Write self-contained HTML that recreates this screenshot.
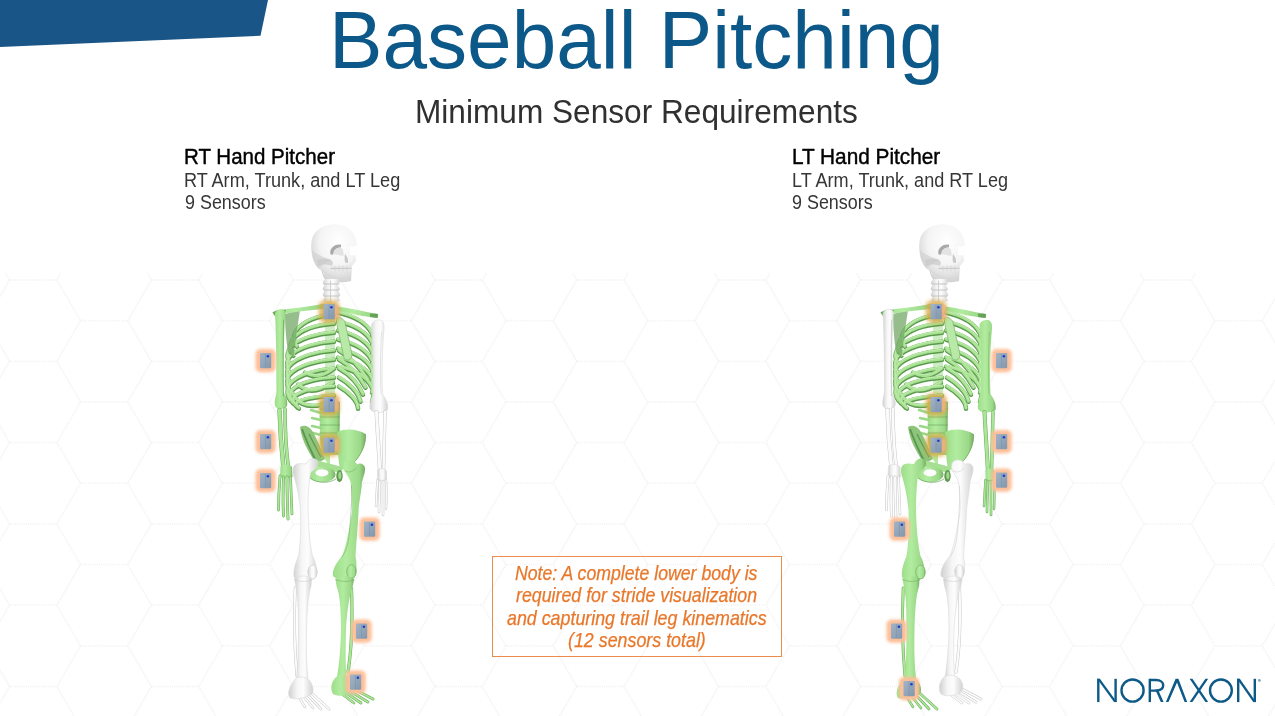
<!DOCTYPE html>
<html><head><meta charset="utf-8">
<style>
html,body{margin:0;padding:0;background:#fff;}
body{width:1275px;height:716px;position:relative;overflow:hidden;font-family:"Liberation Sans",sans-serif;}
svg{position:absolute;left:0;top:0;}
.abs{position:absolute;white-space:nowrap;transform-origin:0 0;}
.it{font-style:italic;}
#note{position:absolute;left:491.8px;top:555.8px;width:288.5px;height:99.5px;border:1.3px solid #ec8c4a;}
</style></head><body>
<svg width="1275" height="716" viewBox="0 0 1275 716">
<defs>
<linearGradient id="gg" x1="0" y1="0" x2="1" y2="0"><stop offset="0" stop-color="#9ddd89"/><stop offset="0.4" stop-color="#b2eca0"/><stop offset="0.82" stop-color="#9bd888"/><stop offset="1" stop-color="#74b164"/></linearGradient>
<linearGradient id="wg" x1="0" y1="0" x2="1" y2="0"><stop offset="0" stop-color="#d0d0d0"/><stop offset="0.35" stop-color="#f6f6f6"/><stop offset="0.6" stop-color="#fdfdfd"/><stop offset="1" stop-color="#d2d2d2"/></linearGradient>
<radialGradient id="sk" cx="0.6" cy="0.3" r="0.75"><stop offset="0" stop-color="#ffffff"/><stop offset="0.55" stop-color="#f4f4f4"/><stop offset="1" stop-color="#cdcdcd"/></radialGradient>
<linearGradient id="sg" x1="0" y1="0" x2="1" y2="1"><stop offset="0" stop-color="#a3b4c6"/><stop offset="1" stop-color="#8297ad"/></linearGradient>
<filter id="blur2" x="-50%" y="-50%" width="200%" height="200%"><feGaussianBlur stdDeviation="2"/></filter>
<filter id="blur15" x="-50%" y="-50%" width="200%" height="200%"><feGaussianBlur stdDeviation="1.5"/></filter>
<filter id="blur05" x="-50%" y="-50%" width="200%" height="200%"><feGaussianBlur stdDeviation="0.6"/></filter>
<filter id="blur1" x="-50%" y="-50%" width="200%" height="200%"><feGaussianBlur stdDeviation="1"/></filter>
<clipPath id="hexclip"><rect x="0" y="273" width="1275" height="443"/></clipPath>
</defs>
<path d="M9.6,198.7 L-14.0,239.4 L-61.3,239.4 L-84.9,198.7 L-61.3,158.1 L-14.0,158.1Z M9.6,280.0 L-14.0,320.6 L-61.3,320.6 L-84.9,280.0 L-61.3,239.3 L-14.0,239.3Z M9.6,361.3 L-14.0,401.9 L-61.3,401.9 L-84.9,361.3 L-61.3,320.7 L-14.0,320.7Z M9.6,442.6 L-14.0,483.2 L-61.3,483.2 L-84.9,442.6 L-61.3,402.0 L-14.0,402.0Z M9.6,523.9 L-14.0,564.5 L-61.3,564.5 L-84.9,523.9 L-61.3,483.2 L-14.0,483.2Z M9.6,605.2 L-14.0,645.9 L-61.3,645.9 L-84.9,605.2 L-61.3,564.6 L-14.0,564.6Z M9.6,686.5 L-14.0,727.1 L-61.3,727.1 L-84.9,686.5 L-61.3,645.9 L-14.0,645.9Z M9.6,767.8 L-14.0,808.4 L-61.3,808.4 L-84.9,767.8 L-61.3,727.1 L-14.0,727.1Z M9.6,849.1 L-14.0,889.7 L-61.3,889.7 L-84.9,849.1 L-61.3,808.4 L-14.0,808.4Z M80.5,158.0 L56.9,198.7 L9.6,198.7 L-14.0,158.0 L9.6,117.4 L56.9,117.4Z M80.5,239.3 L56.9,280.0 L9.6,280.0 L-14.0,239.3 L9.6,198.7 L56.9,198.7Z M80.5,320.6 L56.9,361.3 L9.6,361.3 L-14.0,320.6 L9.6,280.0 L56.9,280.0Z M80.5,401.9 L56.9,442.6 L9.6,442.6 L-14.0,401.9 L9.6,361.3 L56.9,361.3Z M80.5,483.2 L56.9,523.9 L9.6,523.9 L-14.0,483.2 L9.6,442.6 L56.9,442.6Z M80.5,564.5 L56.9,605.2 L9.6,605.2 L-14.0,564.5 L9.6,523.9 L56.9,523.9Z M80.5,645.8 L56.9,686.5 L9.6,686.5 L-14.0,645.8 L9.6,605.2 L56.9,605.2Z M80.5,727.1 L56.9,767.8 L9.6,767.8 L-14.0,727.1 L9.6,686.5 L56.9,686.5Z M80.5,808.4 L56.9,849.1 L9.6,849.1 L-14.0,808.4 L9.6,767.8 L56.9,767.8Z M151.4,198.7 L127.8,239.4 L80.5,239.4 L56.9,198.7 L80.5,158.1 L127.8,158.1Z M151.4,280.0 L127.8,320.6 L80.5,320.6 L56.9,280.0 L80.5,239.3 L127.8,239.3Z M151.4,361.3 L127.8,401.9 L80.5,401.9 L56.9,361.3 L80.5,320.7 L127.8,320.7Z M151.4,442.6 L127.8,483.2 L80.5,483.2 L56.9,442.6 L80.5,402.0 L127.8,402.0Z M151.4,523.9 L127.8,564.5 L80.5,564.5 L56.9,523.9 L80.5,483.2 L127.8,483.2Z M151.4,605.2 L127.8,645.9 L80.5,645.9 L56.9,605.2 L80.5,564.6 L127.8,564.6Z M151.4,686.5 L127.8,727.1 L80.5,727.1 L56.9,686.5 L80.5,645.9 L127.8,645.9Z M151.4,767.8 L127.8,808.4 L80.5,808.4 L56.9,767.8 L80.5,727.1 L127.8,727.1Z M151.4,849.1 L127.8,889.7 L80.5,889.7 L56.9,849.1 L80.5,808.4 L127.8,808.4Z M222.3,158.0 L198.7,198.7 L151.4,198.7 L127.8,158.0 L151.4,117.4 L198.7,117.4Z M222.3,239.3 L198.7,280.0 L151.4,280.0 L127.8,239.3 L151.4,198.7 L198.7,198.7Z M222.3,320.6 L198.7,361.3 L151.4,361.3 L127.8,320.6 L151.4,280.0 L198.7,280.0Z M222.3,401.9 L198.7,442.6 L151.4,442.6 L127.8,401.9 L151.4,361.3 L198.7,361.3Z M222.3,483.2 L198.7,523.9 L151.4,523.9 L127.8,483.2 L151.4,442.6 L198.7,442.6Z M222.3,564.5 L198.7,605.2 L151.4,605.2 L127.8,564.5 L151.4,523.9 L198.7,523.9Z M222.3,645.8 L198.7,686.5 L151.4,686.5 L127.8,645.8 L151.4,605.2 L198.7,605.2Z M222.3,727.1 L198.7,767.8 L151.4,767.8 L127.8,727.1 L151.4,686.5 L198.7,686.5Z M222.3,808.4 L198.7,849.1 L151.4,849.1 L127.8,808.4 L151.4,767.8 L198.7,767.8Z M293.2,198.7 L269.6,239.4 L222.3,239.4 L198.7,198.7 L222.3,158.1 L269.6,158.1Z M293.2,280.0 L269.6,320.6 L222.3,320.6 L198.7,280.0 L222.3,239.3 L269.6,239.3Z M293.2,361.3 L269.6,401.9 L222.3,401.9 L198.7,361.3 L222.3,320.7 L269.6,320.7Z M293.2,442.6 L269.6,483.2 L222.3,483.2 L198.7,442.6 L222.3,402.0 L269.6,402.0Z M293.2,523.9 L269.6,564.5 L222.3,564.5 L198.7,523.9 L222.3,483.2 L269.6,483.2Z M293.2,605.2 L269.6,645.9 L222.3,645.9 L198.7,605.2 L222.3,564.6 L269.6,564.6Z M293.2,686.5 L269.6,727.1 L222.3,727.1 L198.7,686.5 L222.3,645.9 L269.6,645.9Z M293.2,767.8 L269.6,808.4 L222.3,808.4 L198.7,767.8 L222.3,727.1 L269.6,727.1Z M293.2,849.1 L269.6,889.7 L222.3,889.7 L198.7,849.1 L222.3,808.4 L269.6,808.4Z M364.1,158.0 L340.5,198.7 L293.2,198.7 L269.6,158.0 L293.2,117.4 L340.5,117.4Z M364.1,239.3 L340.5,280.0 L293.2,280.0 L269.6,239.3 L293.2,198.7 L340.5,198.7Z M364.1,320.6 L340.5,361.3 L293.2,361.3 L269.6,320.6 L293.2,280.0 L340.5,280.0Z M364.1,401.9 L340.5,442.6 L293.2,442.6 L269.6,401.9 L293.2,361.3 L340.5,361.3Z M364.1,483.2 L340.5,523.9 L293.2,523.9 L269.6,483.2 L293.2,442.6 L340.5,442.6Z M364.1,564.5 L340.5,605.2 L293.2,605.2 L269.6,564.5 L293.2,523.9 L340.5,523.9Z M364.1,645.8 L340.5,686.5 L293.2,686.5 L269.6,645.8 L293.2,605.2 L340.5,605.2Z M364.1,727.1 L340.5,767.8 L293.2,767.8 L269.6,727.1 L293.2,686.5 L340.5,686.5Z M364.1,808.4 L340.5,849.1 L293.2,849.1 L269.6,808.4 L293.2,767.8 L340.5,767.8Z M435.0,198.7 L411.4,239.4 L364.1,239.4 L340.5,198.7 L364.1,158.1 L411.4,158.1Z M435.0,280.0 L411.4,320.6 L364.1,320.6 L340.5,280.0 L364.1,239.3 L411.4,239.3Z M435.0,361.3 L411.4,401.9 L364.1,401.9 L340.5,361.3 L364.1,320.7 L411.4,320.7Z M435.0,442.6 L411.4,483.2 L364.1,483.2 L340.5,442.6 L364.1,402.0 L411.4,402.0Z M435.0,523.9 L411.4,564.5 L364.1,564.5 L340.5,523.9 L364.1,483.2 L411.4,483.2Z M435.0,605.2 L411.4,645.9 L364.1,645.9 L340.5,605.2 L364.1,564.6 L411.4,564.6Z M435.0,686.5 L411.4,727.1 L364.1,727.1 L340.5,686.5 L364.1,645.9 L411.4,645.9Z M435.0,767.8 L411.4,808.4 L364.1,808.4 L340.5,767.8 L364.1,727.1 L411.4,727.1Z M435.0,849.1 L411.4,889.7 L364.1,889.7 L340.5,849.1 L364.1,808.4 L411.4,808.4Z M505.9,158.0 L482.3,198.7 L435.0,198.7 L411.4,158.0 L435.0,117.4 L482.3,117.4Z M505.9,239.3 L482.3,280.0 L435.0,280.0 L411.4,239.3 L435.0,198.7 L482.3,198.7Z M505.9,320.6 L482.3,361.3 L435.0,361.3 L411.4,320.6 L435.0,280.0 L482.3,280.0Z M505.9,401.9 L482.3,442.6 L435.0,442.6 L411.4,401.9 L435.0,361.3 L482.3,361.3Z M505.9,483.2 L482.3,523.9 L435.0,523.9 L411.4,483.2 L435.0,442.6 L482.3,442.6Z M505.9,564.5 L482.3,605.2 L435.0,605.2 L411.4,564.5 L435.0,523.9 L482.3,523.9Z M505.9,645.8 L482.3,686.5 L435.0,686.5 L411.4,645.8 L435.0,605.2 L482.3,605.2Z M505.9,727.1 L482.3,767.8 L435.0,767.8 L411.4,727.1 L435.0,686.5 L482.3,686.5Z M505.9,808.4 L482.3,849.1 L435.0,849.1 L411.4,808.4 L435.0,767.8 L482.3,767.8Z M576.8,198.7 L553.2,239.4 L505.9,239.4 L482.3,198.7 L505.9,158.1 L553.2,158.1Z M576.8,280.0 L553.2,320.6 L505.9,320.6 L482.3,280.0 L505.9,239.3 L553.2,239.3Z M576.8,361.3 L553.2,401.9 L505.9,401.9 L482.3,361.3 L505.9,320.7 L553.2,320.7Z M576.8,442.6 L553.2,483.2 L505.9,483.2 L482.3,442.6 L505.9,402.0 L553.2,402.0Z M576.8,523.9 L553.2,564.5 L505.9,564.5 L482.3,523.9 L505.9,483.2 L553.2,483.2Z M576.8,605.2 L553.2,645.9 L505.9,645.9 L482.3,605.2 L505.9,564.6 L553.2,564.6Z M576.8,686.5 L553.2,727.1 L505.9,727.1 L482.3,686.5 L505.9,645.9 L553.2,645.9Z M576.8,767.8 L553.2,808.4 L505.9,808.4 L482.3,767.8 L505.9,727.1 L553.2,727.1Z M576.8,849.1 L553.2,889.7 L505.9,889.7 L482.3,849.1 L505.9,808.4 L553.2,808.4Z M647.7,158.0 L624.1,198.7 L576.8,198.7 L553.2,158.0 L576.8,117.4 L624.1,117.4Z M647.7,239.3 L624.1,280.0 L576.8,280.0 L553.2,239.3 L576.8,198.7 L624.1,198.7Z M647.7,320.6 L624.1,361.3 L576.8,361.3 L553.2,320.6 L576.8,280.0 L624.1,280.0Z M647.7,401.9 L624.1,442.6 L576.8,442.6 L553.2,401.9 L576.8,361.3 L624.1,361.3Z M647.7,483.2 L624.1,523.9 L576.8,523.9 L553.2,483.2 L576.8,442.6 L624.1,442.6Z M647.7,564.5 L624.1,605.2 L576.8,605.2 L553.2,564.5 L576.8,523.9 L624.1,523.9Z M647.7,645.8 L624.1,686.5 L576.8,686.5 L553.2,645.8 L576.8,605.2 L624.1,605.2Z M647.7,727.1 L624.1,767.8 L576.8,767.8 L553.2,727.1 L576.8,686.5 L624.1,686.5Z M647.7,808.4 L624.1,849.1 L576.8,849.1 L553.2,808.4 L576.8,767.8 L624.1,767.8Z M718.6,198.7 L695.0,239.4 L647.7,239.4 L624.1,198.7 L647.7,158.1 L695.0,158.1Z M718.6,280.0 L695.0,320.6 L647.7,320.6 L624.1,280.0 L647.7,239.3 L695.0,239.3Z M718.6,361.3 L695.0,401.9 L647.7,401.9 L624.1,361.3 L647.7,320.7 L695.0,320.7Z M718.6,442.6 L695.0,483.2 L647.7,483.2 L624.1,442.6 L647.7,402.0 L695.0,402.0Z M718.6,523.9 L695.0,564.5 L647.7,564.5 L624.1,523.9 L647.7,483.2 L695.0,483.2Z M718.6,605.2 L695.0,645.9 L647.7,645.9 L624.1,605.2 L647.7,564.6 L695.0,564.6Z M718.6,686.5 L695.0,727.1 L647.7,727.1 L624.1,686.5 L647.7,645.9 L695.0,645.9Z M718.6,767.8 L695.0,808.4 L647.7,808.4 L624.1,767.8 L647.7,727.1 L695.0,727.1Z M718.6,849.1 L695.0,889.7 L647.7,889.7 L624.1,849.1 L647.7,808.4 L695.0,808.4Z M789.5,158.0 L765.9,198.7 L718.6,198.7 L695.0,158.0 L718.6,117.4 L765.9,117.4Z M789.5,239.3 L765.9,280.0 L718.6,280.0 L695.0,239.3 L718.6,198.7 L765.9,198.7Z M789.5,320.6 L765.9,361.3 L718.6,361.3 L695.0,320.6 L718.6,280.0 L765.9,280.0Z M789.5,401.9 L765.9,442.6 L718.6,442.6 L695.0,401.9 L718.6,361.3 L765.9,361.3Z M789.5,483.2 L765.9,523.9 L718.6,523.9 L695.0,483.2 L718.6,442.6 L765.9,442.6Z M789.5,564.5 L765.9,605.2 L718.6,605.2 L695.0,564.5 L718.6,523.9 L765.9,523.9Z M789.5,645.8 L765.9,686.5 L718.6,686.5 L695.0,645.8 L718.6,605.2 L765.9,605.2Z M789.5,727.1 L765.9,767.8 L718.6,767.8 L695.0,727.1 L718.6,686.5 L765.9,686.5Z M789.5,808.4 L765.9,849.1 L718.6,849.1 L695.0,808.4 L718.6,767.8 L765.9,767.8Z M860.4,198.7 L836.8,239.4 L789.5,239.4 L765.9,198.7 L789.5,158.1 L836.8,158.1Z M860.4,280.0 L836.8,320.6 L789.5,320.6 L765.9,280.0 L789.5,239.3 L836.8,239.3Z M860.4,361.3 L836.8,401.9 L789.5,401.9 L765.9,361.3 L789.5,320.7 L836.8,320.7Z M860.4,442.6 L836.8,483.2 L789.5,483.2 L765.9,442.6 L789.5,402.0 L836.8,402.0Z M860.4,523.9 L836.8,564.5 L789.5,564.5 L765.9,523.9 L789.5,483.2 L836.8,483.2Z M860.4,605.2 L836.8,645.9 L789.5,645.9 L765.9,605.2 L789.5,564.6 L836.8,564.6Z M860.4,686.5 L836.8,727.1 L789.5,727.1 L765.9,686.5 L789.5,645.9 L836.8,645.9Z M860.4,767.8 L836.8,808.4 L789.5,808.4 L765.9,767.8 L789.5,727.1 L836.8,727.1Z M860.4,849.1 L836.8,889.7 L789.5,889.7 L765.9,849.1 L789.5,808.4 L836.8,808.4Z M931.3,158.0 L907.7,198.7 L860.4,198.7 L836.8,158.0 L860.4,117.4 L907.7,117.4Z M931.3,239.3 L907.7,280.0 L860.4,280.0 L836.8,239.3 L860.4,198.7 L907.7,198.7Z M931.3,320.6 L907.7,361.3 L860.4,361.3 L836.8,320.6 L860.4,280.0 L907.7,280.0Z M931.3,401.9 L907.7,442.6 L860.4,442.6 L836.8,401.9 L860.4,361.3 L907.7,361.3Z M931.3,483.2 L907.7,523.9 L860.4,523.9 L836.8,483.2 L860.4,442.6 L907.7,442.6Z M931.3,564.5 L907.7,605.2 L860.4,605.2 L836.8,564.5 L860.4,523.9 L907.7,523.9Z M931.3,645.8 L907.7,686.5 L860.4,686.5 L836.8,645.8 L860.4,605.2 L907.7,605.2Z M931.3,727.1 L907.7,767.8 L860.4,767.8 L836.8,727.1 L860.4,686.5 L907.7,686.5Z M931.3,808.4 L907.7,849.1 L860.4,849.1 L836.8,808.4 L860.4,767.8 L907.7,767.8Z M1002.2,198.7 L978.6,239.4 L931.3,239.4 L907.7,198.7 L931.3,158.1 L978.6,158.1Z M1002.2,280.0 L978.6,320.6 L931.3,320.6 L907.7,280.0 L931.3,239.3 L978.6,239.3Z M1002.2,361.3 L978.6,401.9 L931.3,401.9 L907.7,361.3 L931.3,320.7 L978.6,320.7Z M1002.2,442.6 L978.6,483.2 L931.3,483.2 L907.7,442.6 L931.3,402.0 L978.6,402.0Z M1002.2,523.9 L978.6,564.5 L931.3,564.5 L907.7,523.9 L931.3,483.2 L978.6,483.2Z M1002.2,605.2 L978.6,645.9 L931.3,645.9 L907.7,605.2 L931.3,564.6 L978.6,564.6Z M1002.2,686.5 L978.6,727.1 L931.3,727.1 L907.7,686.5 L931.3,645.9 L978.6,645.9Z M1002.2,767.8 L978.6,808.4 L931.3,808.4 L907.7,767.8 L931.3,727.1 L978.6,727.1Z M1002.2,849.1 L978.6,889.7 L931.3,889.7 L907.7,849.1 L931.3,808.4 L978.6,808.4Z M1073.1,158.0 L1049.5,198.7 L1002.2,198.7 L978.6,158.0 L1002.2,117.4 L1049.5,117.4Z M1073.1,239.3 L1049.5,280.0 L1002.2,280.0 L978.6,239.3 L1002.2,198.7 L1049.5,198.7Z M1073.1,320.6 L1049.5,361.3 L1002.2,361.3 L978.6,320.6 L1002.2,280.0 L1049.5,280.0Z M1073.1,401.9 L1049.5,442.6 L1002.2,442.6 L978.6,401.9 L1002.2,361.3 L1049.5,361.3Z M1073.1,483.2 L1049.5,523.9 L1002.2,523.9 L978.6,483.2 L1002.2,442.6 L1049.5,442.6Z M1073.1,564.5 L1049.5,605.2 L1002.2,605.2 L978.6,564.5 L1002.2,523.9 L1049.5,523.9Z M1073.1,645.8 L1049.5,686.5 L1002.2,686.5 L978.6,645.8 L1002.2,605.2 L1049.5,605.2Z M1073.1,727.1 L1049.5,767.8 L1002.2,767.8 L978.6,727.1 L1002.2,686.5 L1049.5,686.5Z M1073.1,808.4 L1049.5,849.1 L1002.2,849.1 L978.6,808.4 L1002.2,767.8 L1049.5,767.8Z M1144.0,198.7 L1120.4,239.4 L1073.1,239.4 L1049.5,198.7 L1073.1,158.1 L1120.4,158.1Z M1144.0,280.0 L1120.4,320.6 L1073.1,320.6 L1049.5,280.0 L1073.1,239.3 L1120.4,239.3Z M1144.0,361.3 L1120.4,401.9 L1073.1,401.9 L1049.5,361.3 L1073.1,320.7 L1120.4,320.7Z M1144.0,442.6 L1120.4,483.2 L1073.1,483.2 L1049.5,442.6 L1073.1,402.0 L1120.4,402.0Z M1144.0,523.9 L1120.4,564.5 L1073.1,564.5 L1049.5,523.9 L1073.1,483.2 L1120.4,483.2Z M1144.0,605.2 L1120.4,645.9 L1073.1,645.9 L1049.5,605.2 L1073.1,564.6 L1120.4,564.6Z M1144.0,686.5 L1120.4,727.1 L1073.1,727.1 L1049.5,686.5 L1073.1,645.9 L1120.4,645.9Z M1144.0,767.8 L1120.4,808.4 L1073.1,808.4 L1049.5,767.8 L1073.1,727.1 L1120.4,727.1Z M1144.0,849.1 L1120.4,889.7 L1073.1,889.7 L1049.5,849.1 L1073.1,808.4 L1120.4,808.4Z M1214.9,158.0 L1191.3,198.7 L1144.0,198.7 L1120.4,158.0 L1144.0,117.4 L1191.3,117.4Z M1214.9,239.3 L1191.3,280.0 L1144.0,280.0 L1120.4,239.3 L1144.0,198.7 L1191.3,198.7Z M1214.9,320.6 L1191.3,361.3 L1144.0,361.3 L1120.4,320.6 L1144.0,280.0 L1191.3,280.0Z M1214.9,401.9 L1191.3,442.6 L1144.0,442.6 L1120.4,401.9 L1144.0,361.3 L1191.3,361.3Z M1214.9,483.2 L1191.3,523.9 L1144.0,523.9 L1120.4,483.2 L1144.0,442.6 L1191.3,442.6Z M1214.9,564.5 L1191.3,605.2 L1144.0,605.2 L1120.4,564.5 L1144.0,523.9 L1191.3,523.9Z M1214.9,645.8 L1191.3,686.5 L1144.0,686.5 L1120.4,645.8 L1144.0,605.2 L1191.3,605.2Z M1214.9,727.1 L1191.3,767.8 L1144.0,767.8 L1120.4,727.1 L1144.0,686.5 L1191.3,686.5Z M1214.9,808.4 L1191.3,849.1 L1144.0,849.1 L1120.4,808.4 L1144.0,767.8 L1191.3,767.8Z M1285.8,198.7 L1262.2,239.4 L1214.9,239.4 L1191.3,198.7 L1214.9,158.1 L1262.2,158.1Z M1285.8,280.0 L1262.2,320.6 L1214.9,320.6 L1191.3,280.0 L1214.9,239.3 L1262.2,239.3Z M1285.8,361.3 L1262.2,401.9 L1214.9,401.9 L1191.3,361.3 L1214.9,320.7 L1262.2,320.7Z M1285.8,442.6 L1262.2,483.2 L1214.9,483.2 L1191.3,442.6 L1214.9,402.0 L1262.2,402.0Z M1285.8,523.9 L1262.2,564.5 L1214.9,564.5 L1191.3,523.9 L1214.9,483.2 L1262.2,483.2Z M1285.8,605.2 L1262.2,645.9 L1214.9,645.9 L1191.3,605.2 L1214.9,564.6 L1262.2,564.6Z M1285.8,686.5 L1262.2,727.1 L1214.9,727.1 L1191.3,686.5 L1214.9,645.9 L1262.2,645.9Z M1285.8,767.8 L1262.2,808.4 L1214.9,808.4 L1191.3,767.8 L1214.9,727.1 L1262.2,727.1Z M1285.8,849.1 L1262.2,889.7 L1214.9,889.7 L1191.3,849.1 L1214.9,808.4 L1262.2,808.4Z M1356.7,158.0 L1333.1,198.7 L1285.8,198.7 L1262.2,158.0 L1285.8,117.4 L1333.1,117.4Z M1356.7,239.3 L1333.1,280.0 L1285.8,280.0 L1262.2,239.3 L1285.8,198.7 L1333.1,198.7Z M1356.7,320.6 L1333.1,361.3 L1285.8,361.3 L1262.2,320.6 L1285.8,280.0 L1333.1,280.0Z M1356.7,401.9 L1333.1,442.6 L1285.8,442.6 L1262.2,401.9 L1285.8,361.3 L1333.1,361.3Z M1356.7,483.2 L1333.1,523.9 L1285.8,523.9 L1262.2,483.2 L1285.8,442.6 L1333.1,442.6Z M1356.7,564.5 L1333.1,605.2 L1285.8,605.2 L1262.2,564.5 L1285.8,523.9 L1333.1,523.9Z M1356.7,645.8 L1333.1,686.5 L1285.8,686.5 L1262.2,645.8 L1285.8,605.2 L1333.1,605.2Z M1356.7,727.1 L1333.1,767.8 L1285.8,767.8 L1262.2,727.1 L1285.8,686.5 L1333.1,686.5Z M1356.7,808.4 L1333.1,849.1 L1285.8,849.1 L1262.2,808.4 L1285.8,767.8 L1333.1,767.8Z M1427.6,198.7 L1404.0,239.4 L1356.7,239.4 L1333.1,198.7 L1356.7,158.1 L1404.0,158.1Z M1427.6,280.0 L1404.0,320.6 L1356.7,320.6 L1333.1,280.0 L1356.7,239.3 L1404.0,239.3Z M1427.6,361.3 L1404.0,401.9 L1356.7,401.9 L1333.1,361.3 L1356.7,320.7 L1404.0,320.7Z M1427.6,442.6 L1404.0,483.2 L1356.7,483.2 L1333.1,442.6 L1356.7,402.0 L1404.0,402.0Z M1427.6,523.9 L1404.0,564.5 L1356.7,564.5 L1333.1,523.9 L1356.7,483.2 L1404.0,483.2Z M1427.6,605.2 L1404.0,645.9 L1356.7,645.9 L1333.1,605.2 L1356.7,564.6 L1404.0,564.6Z M1427.6,686.5 L1404.0,727.1 L1356.7,727.1 L1333.1,686.5 L1356.7,645.9 L1404.0,645.9Z M1427.6,767.8 L1404.0,808.4 L1356.7,808.4 L1333.1,767.8 L1356.7,727.1 L1404.0,727.1Z M1427.6,849.1 L1404.0,889.7 L1356.7,889.7 L1333.1,849.1 L1356.7,808.4 L1404.0,808.4Z" fill="none" stroke="#f4f4f4" stroke-width="1.8" stroke-dasharray="1 1.2" clip-path="url(#hexclip)"/>
<polygon points="0,0 268,0 260.5,35.8 0,47" fill="#195586"/>
<g transform="translate(0,0)"><path d="M318,268 C311,260 309.5,245 313,236 C318,227 329,223.5 338,224.5 C348,225.5 355,232 356.5,242 L357,251 C356,254 355.5,257 356,261 L352,266 L351,281 C343,283 332,283 325,279 L323,271 C321,270 319.5,269.5 318,268 Z" fill="url(#sk)"/><path d="M312,250 C312,258 314,264 318,268 C322,266 326,262 332,260 C326,258 318,256 312,250 Z" fill="#d2d2d2" opacity="0.7"/><path d="M341,244.5 C334.5,244 330,247.5 330.2,253.5 C331,255 332.5,255 333.5,254 C333.5,250 336.5,247.5 341,247.5 Z" fill="#a9a9a9"/><path d="M333.5,254 C333.5,250 336.5,247.5 341,247.5 C343,249 344,252 343.5,256 C340,255 336,255 333.5,254 Z" fill="#e3e3e3"/><path d="M349.5,247 L357,246 L356.5,255.5 L350,255 Z" fill="#ffffff"/><path d="M345,254 C347,256 348.5,259 348,263 L345,262.5 C344.5,259 344.5,256 345,254 Z" fill="#c9c9c9"/><path d="M317,260 C322,258 329,258 333,262 L332,266 C327,264 321,264 318,266 Z" fill="#cacaca" opacity="0.75"/><path d="M331,266 L351,265.5 L351,271 L331,271.5 Z" fill="#e9e9e9"/><path d="M331,268.5 L351,268.3" fill="none" stroke="#bdbdbd" stroke-width="0.8" stroke-linecap="round" opacity="1"/><path d="M335,266 L335,271 M339,266 L339,271 M343,266 L343,271 M347,266 L347,271" fill="none" stroke="#cfcfcf" stroke-width="0.5" stroke-linecap="round" opacity="1"/><path d="M324,272 C328,276 340,279 351,280" fill="none" stroke="#d6d6d6" stroke-width="0.8"/><path d="M322,270 C323,275 324,278 326,279.5" fill="none" stroke="#c9c9c9" stroke-width="1"/><path d="M325,279 L338,279 L339.5,283 L337.5,285 L340,289 L338,291 L340.5,295 L338.5,297 L340,301 C334,303.5 328,303.5 323,301 L324.5,297 L322.5,295 L324.5,291 L322.5,289 L324.5,285 L322.5,283 Z" fill="url(#wg)"/><path d="M324,284 L339,284 M324,290 L339,290 M324,296 L339,296" fill="none" stroke="#bdbdbd" stroke-width="0.9" stroke-linecap="round" opacity="1"/><path d="M330.5,281 L330.5,302" fill="none" stroke="#d0d0d0" stroke-width="1.0" stroke-linecap="round" opacity="1"/><path d="M325,304 L335,304 L335,402 L325,402 Z" fill="#a3dc8f" opacity="0.55"/><path d="M334,314.0 C320,315.0 305.0,319.0 296.0,330.0 C293.0,336.0 294.0,342.0 297.0,346.0 M334,323.0 C320,324.0 301.5,328.0 292.5,339.0 C289.5,345.0 290.5,351.0 293.5,355.0 M334,332.0 C320,333.0 298.5,337.0 289.5,348.0 C286.5,354.0 287.5,360.0 290.5,364.0 M334,341.0 C320,342.0 298.0,346.0 289.0,357.0 C286.0,363.0 287.0,369.0 290.0,373.0 M334,350.0 C320,351.0 298.0,355.0 289.0,366.0 C286.0,372.0 287.0,378.0 290.0,382.0 M334,359.0 C320,360.0 298.0,364.0 289.0,375.0 C286.0,381.0 287.0,387.0 290.0,391.0 M334,368.0 C320,369.0 298.5,373.0 289.5,384.0 C286.5,390.0 287.5,396.0 290.5,400.0 M334,377.0 C320,378.0 301.0,381.0 292.0,389.8 C289.0,394.6 290.0,399.4 293.0,402.6 M334,386.0 C320,387.0 304.0,389.0 295.0,395.6 C292.0,399.2 293.0,402.8 296.0,405.2 M334,395.0 C320,396.0 307.0,397.0 298.0,401.4 C295.0,403.8 296.0,406.2 299.0,407.8 M292,392 C296,402 306,408 322,404 M298,384 C306,392 318,392 333,382 M305,372 C314,378 324,376 334,368" fill="none" stroke="#5a9a4c" stroke-width="4.4" stroke-linecap="round" transform="translate(0,0.8)"/><path d="M334,314.0 C320,315.0 305.0,319.0 296.0,330.0 C293.0,336.0 294.0,342.0 297.0,346.0 M334,323.0 C320,324.0 301.5,328.0 292.5,339.0 C289.5,345.0 290.5,351.0 293.5,355.0 M334,332.0 C320,333.0 298.5,337.0 289.5,348.0 C286.5,354.0 287.5,360.0 290.5,364.0 M334,341.0 C320,342.0 298.0,346.0 289.0,357.0 C286.0,363.0 287.0,369.0 290.0,373.0 M334,350.0 C320,351.0 298.0,355.0 289.0,366.0 C286.0,372.0 287.0,378.0 290.0,382.0 M334,359.0 C320,360.0 298.0,364.0 289.0,375.0 C286.0,381.0 287.0,387.0 290.0,391.0 M334,368.0 C320,369.0 298.5,373.0 289.5,384.0 C286.5,390.0 287.5,396.0 290.5,400.0 M334,377.0 C320,378.0 301.0,381.0 292.0,389.8 C289.0,394.6 290.0,399.4 293.0,402.6 M334,386.0 C320,387.0 304.0,389.0 295.0,395.6 C292.0,399.2 293.0,402.8 296.0,405.2 M334,395.0 C320,396.0 307.0,397.0 298.0,401.4 C295.0,403.8 296.0,406.2 299.0,407.8 M292,392 C296,402 306,408 322,404 M298,384 C306,392 318,392 333,382 M305,372 C314,378 324,376 334,368" fill="none" stroke="#a9e194" stroke-width="3.2" stroke-linecap="round"/><path d="M334,314.0 C320,315.0 305.0,319.0 296.0,330.0 C293.0,336.0 294.0,342.0 297.0,346.0 M334,323.0 C320,324.0 301.5,328.0 292.5,339.0 C289.5,345.0 290.5,351.0 293.5,355.0 M334,332.0 C320,333.0 298.5,337.0 289.5,348.0 C286.5,354.0 287.5,360.0 290.5,364.0 M334,341.0 C320,342.0 298.0,346.0 289.0,357.0 C286.0,363.0 287.0,369.0 290.0,373.0 M334,350.0 C320,351.0 298.0,355.0 289.0,366.0 C286.0,372.0 287.0,378.0 290.0,382.0 M334,359.0 C320,360.0 298.0,364.0 289.0,375.0 C286.0,381.0 287.0,387.0 290.0,391.0 M334,368.0 C320,369.0 298.5,373.0 289.5,384.0 C286.5,390.0 287.5,396.0 290.5,400.0 M334,377.0 C320,378.0 301.0,381.0 292.0,389.8 C289.0,394.6 290.0,399.4 293.0,402.6 M334,386.0 C320,387.0 304.0,389.0 295.0,395.6 C292.0,399.2 293.0,402.8 296.0,405.2 M334,395.0 C320,396.0 307.0,397.0 298.0,401.4 C295.0,403.8 296.0,406.2 299.0,407.8 M292,392 C296,402 306,408 322,404 M298,384 C306,392 318,392 333,382 M305,372 C314,378 324,376 334,368" fill="none" stroke="#c6f0b4" stroke-width="0.9" transform="translate(0,-0.7)" opacity="0.8"/><path d="M338,312.0 C352,315.0 366,321.0 372,333.0 C374,339.0 373.5,343.0 372,347.0 M338,321.0 C352,324.0 366,330.0 372,342.0 C374,348.0 373.5,352.0 372,356.0 M338,330.0 C352,333.0 366,339.0 372,351.0 C374,357.0 373.5,361.0 372,365.0 M338,339.0 C352,342.0 366,348.0 372,360.0 C374,366.0 373.5,370.0 372,374.0 M338,348.0 C352,351.0 366,357.0 372,369.0 C374,375.0 373.5,379.0 372,383.0 M338,357.0 C352,360.0 366,366.0 372,378.0 C374,384.0 373.5,388.0 372,392.0 M338,366.0 C352,369.0 366,375.0 372,387.0 C374,393.0 373.5,397.0 372,401.0 M339,350.0 C348,355.0 358,364.0 368.0,380.0 M339,359.0 C348,364.0 358,373.0 365.5,387.0 M339,368.0 C348,373.0 358,382.0 363.0,394.0 M339,377.0 C348,382.0 358,391.0 360.5,401.0 M339,386.0 C348,391.0 358,400.0 358.0,408.0" fill="none" stroke="#5a9a4c" stroke-width="4.4" stroke-linecap="round" transform="translate(0,0.8)"/><path d="M338,312.0 C352,315.0 366,321.0 372,333.0 C374,339.0 373.5,343.0 372,347.0 M338,321.0 C352,324.0 366,330.0 372,342.0 C374,348.0 373.5,352.0 372,356.0 M338,330.0 C352,333.0 366,339.0 372,351.0 C374,357.0 373.5,361.0 372,365.0 M338,339.0 C352,342.0 366,348.0 372,360.0 C374,366.0 373.5,370.0 372,374.0 M338,348.0 C352,351.0 366,357.0 372,369.0 C374,375.0 373.5,379.0 372,383.0 M338,357.0 C352,360.0 366,366.0 372,378.0 C374,384.0 373.5,388.0 372,392.0 M338,366.0 C352,369.0 366,375.0 372,387.0 C374,393.0 373.5,397.0 372,401.0 M339,350.0 C348,355.0 358,364.0 368.0,380.0 M339,359.0 C348,364.0 358,373.0 365.5,387.0 M339,368.0 C348,373.0 358,382.0 363.0,394.0 M339,377.0 C348,382.0 358,391.0 360.5,401.0 M339,386.0 C348,391.0 358,400.0 358.0,408.0" fill="none" stroke="#a9e194" stroke-width="3.2" stroke-linecap="round"/><path d="M338,312.0 C352,315.0 366,321.0 372,333.0 C374,339.0 373.5,343.0 372,347.0 M338,321.0 C352,324.0 366,330.0 372,342.0 C374,348.0 373.5,352.0 372,356.0 M338,330.0 C352,333.0 366,339.0 372,351.0 C374,357.0 373.5,361.0 372,365.0 M338,339.0 C352,342.0 366,348.0 372,360.0 C374,366.0 373.5,370.0 372,374.0 M338,348.0 C352,351.0 366,357.0 372,369.0 C374,375.0 373.5,379.0 372,383.0 M338,357.0 C352,360.0 366,366.0 372,378.0 C374,384.0 373.5,388.0 372,392.0 M338,366.0 C352,369.0 366,375.0 372,387.0 C374,393.0 373.5,397.0 372,401.0 M339,350.0 C348,355.0 358,364.0 368.0,380.0 M339,359.0 C348,364.0 358,373.0 365.5,387.0 M339,368.0 C348,373.0 358,382.0 363.0,394.0 M339,377.0 C348,382.0 358,391.0 360.5,401.0 M339,386.0 C348,391.0 358,400.0 358.0,408.0" fill="none" stroke="#c6f0b4" stroke-width="0.9" transform="translate(0,-0.7)" opacity="0.8"/><path d="M285,314 L300,310 L297,330 L293.5,358 L288,352 C286,340 285,325 285,314 Z" fill="#6aa35c" opacity="0.7" filter="url(#blur05)"/><path d="M336,318 C339,316 343,318 345,322 L352,355 C351,361 346,361 344,358 L337,325 Z" fill="#b8e9a6" stroke="#6ea85e" stroke-width="0.6"/><path d="M272.5,312.5 C285,307.5 305,308 322,304 L329,304.5 L329,308 C312,310.5 290,311.5 275,316 Z" fill="url(#gg)"/><path d="M272.5,312.5 C276,310 281,309.5 286,310 L285,313 C281,313 277,314 275,316 Z" fill="#5e9a50" opacity="0.8"/><path d="M337,306.5 C350,308 365,312 378,314 L377.5,318 C362,316.5 349,313 337,310.5 Z" fill="url(#gg)"/><path d="M370,313.5 L378,314 L377.5,318 L370,317 Z" fill="#5e9a50" opacity="0.8"/><path d="M319.5,402 C327,399.5 335,399.5 340,402 L339.5,440 L320,440 Z" fill="url(#gg)"/><path d="M311,410 L321,413 M312,418 L321,420 M312,426 L321,428 M313,433 L321,435" fill="none" stroke="#9ad886" stroke-width="2.4" stroke-linecap="round" opacity="1"/><path d="M320,409 L339.5,409 M320,417 L339.5,417 M320,425 L339.5,425 M320,433 L339.5,433" fill="none" stroke="#5f9a50" stroke-width="0.9" stroke-linecap="round" opacity="0.6"/><path d="M300,427 C305,424 310,427 313,432 C318,441 322,451 325,459 L316,464 C309,452 302,442 300,427 Z" fill="#8cc47a"/><path d="M302,429 C306,440 311,451 316,461" fill="none" stroke="#4f8a45" stroke-width="1.8" opacity="0.8"/><path d="M309,434 C313,442 317,450 321,457" fill="none" stroke="#3f7a38" stroke-width="1.2" opacity="0.6"/><path d="M320,436 L340,436 C340,447 338,456 336,463 L329,466 C323,457 320,447 320,436 Z" fill="url(#gg)"/><path d="M330,455 L338,455 L338,465 L330,465 Z" fill="#ffffff"/><path d="M337,432 C346,428 358,429 365.5,434 C366.5,444 362,452 358,458 C354,462 351,465 348,469 L340,470 C338,458 337,444 337,432 Z" fill="url(#gg)"/><path d="M365.5,434 C366,444 362,452 357,459 C354,462 352,464 350,467" fill="none" stroke="#6ea85e" stroke-width="0.8"/><path d="M315,460 C325,462 334,465 342,467 L342,472 C333,472 324,470 315,466 Z" fill="#a6de92"/><path d="M308.5,474.5 A13.5,7.8 0 1 0 335.5,474.5 A13.5,7.8 0 1 0 308.5,474.5 Z M315.5,472.8 A6.5,3.6 0 1 1 328.5,472.8 A6.5,3.6 0 1 1 315.5,472.8 Z" fill="url(#gg)" fill-rule="evenodd"/><path d="M310,478 C316,483 328,484 336,479" fill="none" stroke="#5b9a4e" stroke-width="0.9" opacity="0.7"/><ellipse cx="339.5" cy="476" rx="3.2" ry="6" fill="#5d9a50"/><ellipse cx="339.8" cy="475.5" rx="1.6" ry="3.8" fill="#9fd68b"/><path d="M275,314 C275.5,308.5 283.5,307.5 285.5,312 C284,330 283.5,360 283.5,392 C286,396 288,401 287,406 C284,410 277,410 275,406 C274,399 276.5,395 276.5,391 C276.5,360 276,330 275,314 Z" fill="url(#gg)" stroke-linejoin="round"/><path d="M283.6,320 C283.2,345 283,370 283.5,396" fill="none" stroke="#6ea85e" stroke-width="1.1" stroke-linecap="round" opacity="0.75"/><path d="M279.5,410 C280,428 281.5,450 283.5,468" fill="none" stroke="#6aa85a" stroke-width="4.4" stroke-linecap="round"/><path d="M279.5,410 C280,428 281.5,450 283.5,468" fill="none" stroke="#a9e696" stroke-width="3.4" stroke-linecap="round"/><path d="M285,409 C285,428 286,450 288.5,468" fill="none" stroke="#6aa85a" stroke-width="3.6" stroke-linecap="round"/><path d="M285,409 C285,428 286,450 288.5,468" fill="none" stroke="#a9e696" stroke-width="2.6" stroke-linecap="round"/><path d="M280.5,466 C284,464 290,464 292,467 L292.5,477 C288,479 284,479 280,477 Z" fill="url(#gg)" stroke-linejoin="round"/><path d="M280,476 C279,488 278.5,500 278.5,510" fill="none" stroke="#6aa85a" stroke-width="2.8" stroke-linecap="round"/><path d="M280,476 C279,488 278.5,500 278.5,510" fill="none" stroke="#a9e696" stroke-width="1.8" stroke-linecap="round"/><path d="M283.5,477 C283,490 283,505 283.5,516" fill="none" stroke="#6aa85a" stroke-width="2.9" stroke-linecap="round"/><path d="M283.5,477 C283,490 283,505 283.5,516" fill="none" stroke="#a9e696" stroke-width="1.9" stroke-linecap="round"/><path d="M287,477 C287,492 287.5,507 288,519" fill="none" stroke="#6aa85a" stroke-width="2.9" stroke-linecap="round"/><path d="M287,477 C287,492 287.5,507 288,519" fill="none" stroke="#a9e696" stroke-width="1.9" stroke-linecap="round"/><path d="M290.5,477 C291,490 291.5,503 292,514" fill="none" stroke="#6aa85a" stroke-width="2.7" stroke-linecap="round"/><path d="M290.5,477 C291,490 291.5,503 292,514" fill="none" stroke="#a9e696" stroke-width="1.7" stroke-linecap="round"/><path d="M371.5,327 C371,321 377,319.5 380,320 C383,320.5 384.5,324 384,329 C382.5,345 381.5,370 382.5,394 C386,399 388.5,404 387.5,410 C382,413.5 373,413.5 370,409 C369,403 372.5,398 373,394 C373.5,370 373,345 371.5,327 Z" fill="url(#wg)" stroke="#dadada" stroke-width="0.6" stroke-linejoin="round"/><path d="M381.5,332 C380.5,350 380,372 381,394" fill="none" stroke="#c6c6c6" stroke-width="0.9" stroke-linecap="round" opacity="0.5"/><path d="M376.5,412 C377.5,432 379,452 380,473" fill="none" stroke="#c4c4c4" stroke-width="3.9" stroke-linecap="round"/><path d="M376.5,412 C377.5,432 379,452 380,473" fill="none" stroke="#fbfbfb" stroke-width="3.0" stroke-linecap="round"/><path d="M385,412 C384.5,432 384,452 383.5,473" fill="none" stroke="#c4c4c4" stroke-width="3.3" stroke-linecap="round"/><path d="M385,412 C384.5,432 384,452 383.5,473" fill="none" stroke="#fbfbfb" stroke-width="2.4" stroke-linecap="round"/><path d="M377.5,470 C380,468 384,468 386.5,471 L386.5,480 C383,482 380,482 377.5,480 Z" fill="url(#wg)" stroke="#dadada" stroke-width="0.6" stroke-linejoin="round"/><path d="M377.5,480 C377,490 376.5,498 376,506" fill="none" stroke="#c4c4c4" stroke-width="2.4" stroke-linecap="round"/><path d="M377.5,480 C377,490 376.5,498 376,506" fill="none" stroke="#fbfbfb" stroke-width="1.5" stroke-linecap="round"/><path d="M380,481 C379.5,492 379,503 379,512" fill="none" stroke="#c4c4c4" stroke-width="2.5" stroke-linecap="round"/><path d="M380,481 C379.5,492 379,503 379,512" fill="none" stroke="#fbfbfb" stroke-width="1.6" stroke-linecap="round"/><path d="M383,481 C383,493 383,505 383,515" fill="none" stroke="#c4c4c4" stroke-width="2.5" stroke-linecap="round"/><path d="M383,481 C383,493 383,505 383,515" fill="none" stroke="#fbfbfb" stroke-width="1.6" stroke-linecap="round"/><path d="M386,480 C386.5,490 386.5,500 386,509" fill="none" stroke="#c4c4c4" stroke-width="2.3" stroke-linecap="round"/><path d="M386,480 C386.5,490 386.5,500 386,509" fill="none" stroke="#fbfbfb" stroke-width="1.4" stroke-linecap="round"/><path d="M343.5,466 C343.5,461.5 347,460 350,460 C353.5,460 356,462 357,464.5 C360,462.5 364.5,464 365,468 C365.5,472 363.5,476 362,482 C361,495 358.5,505 358.5,512 C358,525 356.5,540 355.5,556 C357,563 357,572 354.5,578 C346,581 336,580 333,576 C332,569 337,562 342,556 C346.5,545 349,530 352,512 C352.5,500 351.5,490 350.5,482 C349,477 346,474 344.5,471 C343.8,469.5 343.5,468 343.5,466 Z" fill="url(#gg)" stroke-linejoin="round"/><path d="M345,471 C349,473 353,472 356,468" fill="none" stroke="#6ea85e" stroke-width="0.8" stroke-linecap="round" opacity="0.6"/><path d="M351.5,486 C352,500 351,520 348.5,540 C347,548 345,553 342,557" fill="none" stroke="#6ea85e" stroke-width="0.9" stroke-linecap="round" opacity="0.55"/><ellipse cx="351.5" cy="571.5" rx="4.8" ry="6.8" fill="url(#gg)" stroke="#6ea85e" stroke-width="0.6"/><path d="M351.5,588 C352.5,615 351.5,650 348,672" fill="none" stroke="#6aa85a" stroke-width="3.2" stroke-linecap="round"/><path d="M351.5,588 C352.5,615 351.5,650 348,672" fill="none" stroke="#a9e696" stroke-width="2.2" stroke-linecap="round"/><path d="M335.5,579 C341,575 350,575 354,579 L353,585 C349.5,595 347,610 346,630 C345.5,650 345.5,665 346.5,676 C343,680 339,680 337,677 C339,665 340.5,650 341,630 C341,610 340,595 336.5,586 Z" fill="url(#gg)" stroke-linejoin="round"/><path d="M335.5,579.5 C341,582 349,582 354,580" fill="none" stroke="#6ea85e" stroke-width="0.7" stroke-linecap="round" opacity="0.7"/><path d="M350,687 L373,699" fill="none" stroke="#6aa85a" stroke-width="2.9" stroke-linecap="round"/><path d="M350,687 L373,699" fill="none" stroke="#a9e696" stroke-width="1.9" stroke-linecap="round"/><path d="M348,690 L368,702" fill="none" stroke="#6aa85a" stroke-width="2.9" stroke-linecap="round"/><path d="M348,690 L368,702" fill="none" stroke="#a9e696" stroke-width="1.9" stroke-linecap="round"/><path d="M345,692 L361,703" fill="none" stroke="#6aa85a" stroke-width="2.8" stroke-linecap="round"/><path d="M345,692 L361,703" fill="none" stroke="#a9e696" stroke-width="1.8" stroke-linecap="round"/><path d="M342,694 L354,703" fill="none" stroke="#6aa85a" stroke-width="2.7" stroke-linecap="round"/><path d="M342,694 L354,703" fill="none" stroke="#a9e696" stroke-width="1.7" stroke-linecap="round"/><path d="M336,677 C341,674 348,675 352,679 C355,683 356,688 353,692 C347,696 338,697 333,694 C330,689 331,682 336,677 Z" fill="url(#gg)" stroke-linejoin="round"/><path d="M293.5,467 C296,462 302,464 306,464 C308,459 313,457 317,460 C319.5,464 317,469 311,472 C309,478 308,495 308,510 C308.5,530 310,545 312.5,556 C316,562 317,570 316,577 C312,582 297,582 294,577 C293,570 296,562 298.5,556 C300.5,545 301,530 300.5,510 C299,495 296.5,485 294.5,478 C293,474 292.5,470 293.5,467 Z" fill="url(#wg)" stroke="#dadada" stroke-width="0.6" stroke-linejoin="round"/><ellipse cx="312.5" cy="572" rx="4.8" ry="6.8" fill="url(#wg)" stroke="#d0d0d0" stroke-width="0.6"/><path d="M295.2,588 C294,615 294.5,650 297,676" fill="none" stroke="#c4c4c4" stroke-width="2.9" stroke-linecap="round"/><path d="M295.2,588 C294,615 294.5,650 297,676" fill="none" stroke="#fbfbfb" stroke-width="2.0" stroke-linecap="round"/><path d="M294.5,579 C300,575 308,575 311.5,579 L311,586 C308,596 307,610 306.5,630 C306,650 306.5,665 308,678 C304,682 299,682 296.5,679 C298,665 298.5,650 298.5,630 C298.5,610 298,596 296,587 Z" fill="url(#wg)" stroke="#dadada" stroke-width="0.6" stroke-linejoin="round"/><path d="M294.5,579.5 C300,582 306,582 311.5,580" fill="none" stroke="#c6c6c6" stroke-width="0.7" stroke-linecap="round" opacity="0.7"/><path d="M306,688 L329,709" fill="none" stroke="#c4c4c4" stroke-width="2.6" stroke-linecap="round"/><path d="M306,688 L329,709" fill="none" stroke="#fbfbfb" stroke-width="1.7" stroke-linecap="round"/><path d="M303,690 L321,709" fill="none" stroke="#c4c4c4" stroke-width="2.6" stroke-linecap="round"/><path d="M303,690 L321,709" fill="none" stroke="#fbfbfb" stroke-width="1.7" stroke-linecap="round"/><path d="M300,692 L313,708" fill="none" stroke="#c4c4c4" stroke-width="2.5" stroke-linecap="round"/><path d="M300,692 L313,708" fill="none" stroke="#fbfbfb" stroke-width="1.6" stroke-linecap="round"/><path d="M297,694 L305,707" fill="none" stroke="#c4c4c4" stroke-width="2.4" stroke-linecap="round"/><path d="M297,694 L305,707" fill="none" stroke="#fbfbfb" stroke-width="1.5" stroke-linecap="round"/><path d="M296,678 C301,676 307,677 310,681 C313,686 314,690 312,694 C306,698 296,700 290,698 C287,694 289,686 296,678 Z" fill="url(#wg)" stroke="#dadada" stroke-width="0.6" stroke-linejoin="round"/></g><rect x="319.0" y="300.5" width="20.2" height="22.2" rx="6" fill="#d9a640" opacity="0.85" filter="url(#blur2)"/><rect x="333.7" y="305" width="5" height="13.2" rx="2" fill="#f6b08a" opacity="0.8" filter="url(#blur1)"/><rect x="323.5" y="304" width="11.2" height="15.2" rx="1.2" fill="url(#sg)"/><path d="M329.1,304.8 L329.1,318.4" stroke="#7890a8" stroke-width="0.7" opacity="0.8"/><circle cx="331.4" cy="307.3" r="1.3" fill="#1a3ec8"/><rect x="319.0" y="393.5" width="20.2" height="22.2" rx="6" fill="#d9a640" opacity="0.85" filter="url(#blur2)"/><rect x="333.7" y="398" width="5" height="13.2" rx="2" fill="#f6b08a" opacity="0.8" filter="url(#blur1)"/><rect x="323.5" y="397" width="11.2" height="15.2" rx="1.2" fill="url(#sg)"/><path d="M329.1,397.8 L329.1,411.4" stroke="#7890a8" stroke-width="0.7" opacity="0.8"/><circle cx="331.4" cy="400.3" r="1.3" fill="#1a3ec8"/><rect x="319.0" y="434.0" width="20.2" height="22.2" rx="6" fill="#d9a640" opacity="0.85" filter="url(#blur2)"/><rect x="333.7" y="438.5" width="5" height="13.2" rx="2" fill="#f6b08a" opacity="0.8" filter="url(#blur1)"/><rect x="323.5" y="437.5" width="11.2" height="15.2" rx="1.2" fill="url(#sg)"/><path d="M329.1,438.3 L329.1,451.9" stroke="#7890a8" stroke-width="0.7" opacity="0.8"/><circle cx="331.4" cy="440.8" r="1.3" fill="#1a3ec8"/><rect x="255.5" y="349" width="20.2" height="23.2" rx="5" fill="#fdbf99" filter="url(#blur15)"/><rect x="260" y="353" width="11.2" height="15.2" rx="1.2" fill="url(#sg)"/><path d="M265.6,353.8 L265.6,367.4" stroke="#7890a8" stroke-width="0.7" opacity="0.8"/><circle cx="267.9" cy="356.3" r="1.3" fill="#1a3ec8"/><rect x="255.5" y="430" width="20.2" height="23.2" rx="5" fill="#fdbf99" filter="url(#blur15)"/><rect x="260" y="434" width="11.2" height="15.2" rx="1.2" fill="url(#sg)"/><path d="M265.6,434.8 L265.6,448.4" stroke="#7890a8" stroke-width="0.7" opacity="0.8"/><circle cx="267.9" cy="437.3" r="1.3" fill="#1a3ec8"/><rect x="255.5" y="469" width="20.2" height="23.2" rx="5" fill="#fdbf99" filter="url(#blur15)"/><rect x="260" y="473" width="11.2" height="15.2" rx="1.2" fill="url(#sg)"/><path d="M265.6,473.8 L265.6,487.4" stroke="#7890a8" stroke-width="0.7" opacity="0.8"/><circle cx="267.9" cy="476.3" r="1.3" fill="#1a3ec8"/><rect x="359.5" y="517.5" width="20.2" height="23.2" rx="5" fill="#fdbf99" filter="url(#blur15)"/><rect x="364" y="521.5" width="11.2" height="15.2" rx="1.2" fill="url(#sg)"/><path d="M369.6,522.3 L369.6,535.9000000000001" stroke="#7890a8" stroke-width="0.7" opacity="0.8"/><circle cx="371.9" cy="524.8" r="1.3" fill="#1a3ec8"/><rect x="351.5" y="619.5" width="20.2" height="23.2" rx="5" fill="#fdbf99" filter="url(#blur15)"/><rect x="356" y="623.5" width="11.2" height="15.2" rx="1.2" fill="url(#sg)"/><path d="M361.6,624.3 L361.6,637.9000000000001" stroke="#7890a8" stroke-width="0.7" opacity="0.8"/><circle cx="363.9" cy="626.8" r="1.3" fill="#1a3ec8"/><rect x="345.5" y="670.5" width="20.2" height="23.2" rx="5" fill="#fdbf99" filter="url(#blur15)"/><rect x="350" y="674.5" width="11.2" height="15.2" rx="1.2" fill="url(#sg)"/><path d="M355.6,675.3 L355.6,688.9000000000001" stroke="#7890a8" stroke-width="0.7" opacity="0.8"/><circle cx="357.9" cy="677.8" r="1.3" fill="#1a3ec8"/>
<g transform="translate(608,0)"><path d="M318,268 C311,260 309.5,245 313,236 C318,227 329,223.5 338,224.5 C348,225.5 355,232 356.5,242 L357,251 C356,254 355.5,257 356,261 L352,266 L351,281 C343,283 332,283 325,279 L323,271 C321,270 319.5,269.5 318,268 Z" fill="url(#sk)"/><path d="M312,250 C312,258 314,264 318,268 C322,266 326,262 332,260 C326,258 318,256 312,250 Z" fill="#d2d2d2" opacity="0.7"/><path d="M341,244.5 C334.5,244 330,247.5 330.2,253.5 C331,255 332.5,255 333.5,254 C333.5,250 336.5,247.5 341,247.5 Z" fill="#a9a9a9"/><path d="M333.5,254 C333.5,250 336.5,247.5 341,247.5 C343,249 344,252 343.5,256 C340,255 336,255 333.5,254 Z" fill="#e3e3e3"/><path d="M349.5,247 L357,246 L356.5,255.5 L350,255 Z" fill="#ffffff"/><path d="M345,254 C347,256 348.5,259 348,263 L345,262.5 C344.5,259 344.5,256 345,254 Z" fill="#c9c9c9"/><path d="M317,260 C322,258 329,258 333,262 L332,266 C327,264 321,264 318,266 Z" fill="#cacaca" opacity="0.75"/><path d="M331,266 L351,265.5 L351,271 L331,271.5 Z" fill="#e9e9e9"/><path d="M331,268.5 L351,268.3" fill="none" stroke="#bdbdbd" stroke-width="0.8" stroke-linecap="round" opacity="1"/><path d="M335,266 L335,271 M339,266 L339,271 M343,266 L343,271 M347,266 L347,271" fill="none" stroke="#cfcfcf" stroke-width="0.5" stroke-linecap="round" opacity="1"/><path d="M324,272 C328,276 340,279 351,280" fill="none" stroke="#d6d6d6" stroke-width="0.8"/><path d="M322,270 C323,275 324,278 326,279.5" fill="none" stroke="#c9c9c9" stroke-width="1"/><path d="M325,279 L338,279 L339.5,283 L337.5,285 L340,289 L338,291 L340.5,295 L338.5,297 L340,301 C334,303.5 328,303.5 323,301 L324.5,297 L322.5,295 L324.5,291 L322.5,289 L324.5,285 L322.5,283 Z" fill="url(#wg)"/><path d="M324,284 L339,284 M324,290 L339,290 M324,296 L339,296" fill="none" stroke="#bdbdbd" stroke-width="0.9" stroke-linecap="round" opacity="1"/><path d="M330.5,281 L330.5,302" fill="none" stroke="#d0d0d0" stroke-width="1.0" stroke-linecap="round" opacity="1"/><path d="M325,304 L335,304 L335,402 L325,402 Z" fill="#a3dc8f" opacity="0.55"/><path d="M334,314.0 C320,315.0 305.0,319.0 296.0,330.0 C293.0,336.0 294.0,342.0 297.0,346.0 M334,323.0 C320,324.0 301.5,328.0 292.5,339.0 C289.5,345.0 290.5,351.0 293.5,355.0 M334,332.0 C320,333.0 298.5,337.0 289.5,348.0 C286.5,354.0 287.5,360.0 290.5,364.0 M334,341.0 C320,342.0 298.0,346.0 289.0,357.0 C286.0,363.0 287.0,369.0 290.0,373.0 M334,350.0 C320,351.0 298.0,355.0 289.0,366.0 C286.0,372.0 287.0,378.0 290.0,382.0 M334,359.0 C320,360.0 298.0,364.0 289.0,375.0 C286.0,381.0 287.0,387.0 290.0,391.0 M334,368.0 C320,369.0 298.5,373.0 289.5,384.0 C286.5,390.0 287.5,396.0 290.5,400.0 M334,377.0 C320,378.0 301.0,381.0 292.0,389.8 C289.0,394.6 290.0,399.4 293.0,402.6 M334,386.0 C320,387.0 304.0,389.0 295.0,395.6 C292.0,399.2 293.0,402.8 296.0,405.2 M334,395.0 C320,396.0 307.0,397.0 298.0,401.4 C295.0,403.8 296.0,406.2 299.0,407.8 M292,392 C296,402 306,408 322,404 M298,384 C306,392 318,392 333,382 M305,372 C314,378 324,376 334,368" fill="none" stroke="#5a9a4c" stroke-width="4.4" stroke-linecap="round" transform="translate(0,0.8)"/><path d="M334,314.0 C320,315.0 305.0,319.0 296.0,330.0 C293.0,336.0 294.0,342.0 297.0,346.0 M334,323.0 C320,324.0 301.5,328.0 292.5,339.0 C289.5,345.0 290.5,351.0 293.5,355.0 M334,332.0 C320,333.0 298.5,337.0 289.5,348.0 C286.5,354.0 287.5,360.0 290.5,364.0 M334,341.0 C320,342.0 298.0,346.0 289.0,357.0 C286.0,363.0 287.0,369.0 290.0,373.0 M334,350.0 C320,351.0 298.0,355.0 289.0,366.0 C286.0,372.0 287.0,378.0 290.0,382.0 M334,359.0 C320,360.0 298.0,364.0 289.0,375.0 C286.0,381.0 287.0,387.0 290.0,391.0 M334,368.0 C320,369.0 298.5,373.0 289.5,384.0 C286.5,390.0 287.5,396.0 290.5,400.0 M334,377.0 C320,378.0 301.0,381.0 292.0,389.8 C289.0,394.6 290.0,399.4 293.0,402.6 M334,386.0 C320,387.0 304.0,389.0 295.0,395.6 C292.0,399.2 293.0,402.8 296.0,405.2 M334,395.0 C320,396.0 307.0,397.0 298.0,401.4 C295.0,403.8 296.0,406.2 299.0,407.8 M292,392 C296,402 306,408 322,404 M298,384 C306,392 318,392 333,382 M305,372 C314,378 324,376 334,368" fill="none" stroke="#a9e194" stroke-width="3.2" stroke-linecap="round"/><path d="M334,314.0 C320,315.0 305.0,319.0 296.0,330.0 C293.0,336.0 294.0,342.0 297.0,346.0 M334,323.0 C320,324.0 301.5,328.0 292.5,339.0 C289.5,345.0 290.5,351.0 293.5,355.0 M334,332.0 C320,333.0 298.5,337.0 289.5,348.0 C286.5,354.0 287.5,360.0 290.5,364.0 M334,341.0 C320,342.0 298.0,346.0 289.0,357.0 C286.0,363.0 287.0,369.0 290.0,373.0 M334,350.0 C320,351.0 298.0,355.0 289.0,366.0 C286.0,372.0 287.0,378.0 290.0,382.0 M334,359.0 C320,360.0 298.0,364.0 289.0,375.0 C286.0,381.0 287.0,387.0 290.0,391.0 M334,368.0 C320,369.0 298.5,373.0 289.5,384.0 C286.5,390.0 287.5,396.0 290.5,400.0 M334,377.0 C320,378.0 301.0,381.0 292.0,389.8 C289.0,394.6 290.0,399.4 293.0,402.6 M334,386.0 C320,387.0 304.0,389.0 295.0,395.6 C292.0,399.2 293.0,402.8 296.0,405.2 M334,395.0 C320,396.0 307.0,397.0 298.0,401.4 C295.0,403.8 296.0,406.2 299.0,407.8 M292,392 C296,402 306,408 322,404 M298,384 C306,392 318,392 333,382 M305,372 C314,378 324,376 334,368" fill="none" stroke="#c6f0b4" stroke-width="0.9" transform="translate(0,-0.7)" opacity="0.8"/><path d="M338,312.0 C352,315.0 366,321.0 372,333.0 C374,339.0 373.5,343.0 372,347.0 M338,321.0 C352,324.0 366,330.0 372,342.0 C374,348.0 373.5,352.0 372,356.0 M338,330.0 C352,333.0 366,339.0 372,351.0 C374,357.0 373.5,361.0 372,365.0 M338,339.0 C352,342.0 366,348.0 372,360.0 C374,366.0 373.5,370.0 372,374.0 M338,348.0 C352,351.0 366,357.0 372,369.0 C374,375.0 373.5,379.0 372,383.0 M338,357.0 C352,360.0 366,366.0 372,378.0 C374,384.0 373.5,388.0 372,392.0 M338,366.0 C352,369.0 366,375.0 372,387.0 C374,393.0 373.5,397.0 372,401.0 M339,350.0 C348,355.0 358,364.0 368.0,380.0 M339,359.0 C348,364.0 358,373.0 365.5,387.0 M339,368.0 C348,373.0 358,382.0 363.0,394.0 M339,377.0 C348,382.0 358,391.0 360.5,401.0 M339,386.0 C348,391.0 358,400.0 358.0,408.0" fill="none" stroke="#5a9a4c" stroke-width="4.4" stroke-linecap="round" transform="translate(0,0.8)"/><path d="M338,312.0 C352,315.0 366,321.0 372,333.0 C374,339.0 373.5,343.0 372,347.0 M338,321.0 C352,324.0 366,330.0 372,342.0 C374,348.0 373.5,352.0 372,356.0 M338,330.0 C352,333.0 366,339.0 372,351.0 C374,357.0 373.5,361.0 372,365.0 M338,339.0 C352,342.0 366,348.0 372,360.0 C374,366.0 373.5,370.0 372,374.0 M338,348.0 C352,351.0 366,357.0 372,369.0 C374,375.0 373.5,379.0 372,383.0 M338,357.0 C352,360.0 366,366.0 372,378.0 C374,384.0 373.5,388.0 372,392.0 M338,366.0 C352,369.0 366,375.0 372,387.0 C374,393.0 373.5,397.0 372,401.0 M339,350.0 C348,355.0 358,364.0 368.0,380.0 M339,359.0 C348,364.0 358,373.0 365.5,387.0 M339,368.0 C348,373.0 358,382.0 363.0,394.0 M339,377.0 C348,382.0 358,391.0 360.5,401.0 M339,386.0 C348,391.0 358,400.0 358.0,408.0" fill="none" stroke="#a9e194" stroke-width="3.2" stroke-linecap="round"/><path d="M338,312.0 C352,315.0 366,321.0 372,333.0 C374,339.0 373.5,343.0 372,347.0 M338,321.0 C352,324.0 366,330.0 372,342.0 C374,348.0 373.5,352.0 372,356.0 M338,330.0 C352,333.0 366,339.0 372,351.0 C374,357.0 373.5,361.0 372,365.0 M338,339.0 C352,342.0 366,348.0 372,360.0 C374,366.0 373.5,370.0 372,374.0 M338,348.0 C352,351.0 366,357.0 372,369.0 C374,375.0 373.5,379.0 372,383.0 M338,357.0 C352,360.0 366,366.0 372,378.0 C374,384.0 373.5,388.0 372,392.0 M338,366.0 C352,369.0 366,375.0 372,387.0 C374,393.0 373.5,397.0 372,401.0 M339,350.0 C348,355.0 358,364.0 368.0,380.0 M339,359.0 C348,364.0 358,373.0 365.5,387.0 M339,368.0 C348,373.0 358,382.0 363.0,394.0 M339,377.0 C348,382.0 358,391.0 360.5,401.0 M339,386.0 C348,391.0 358,400.0 358.0,408.0" fill="none" stroke="#c6f0b4" stroke-width="0.9" transform="translate(0,-0.7)" opacity="0.8"/><path d="M285,314 L300,310 L297,330 L293.5,358 L288,352 C286,340 285,325 285,314 Z" fill="#6aa35c" opacity="0.7" filter="url(#blur05)"/><path d="M336,318 C339,316 343,318 345,322 L352,355 C351,361 346,361 344,358 L337,325 Z" fill="#b8e9a6" stroke="#6ea85e" stroke-width="0.6"/><path d="M272.5,312.5 C285,307.5 305,308 322,304 L329,304.5 L329,308 C312,310.5 290,311.5 275,316 Z" fill="url(#gg)"/><path d="M272.5,312.5 C276,310 281,309.5 286,310 L285,313 C281,313 277,314 275,316 Z" fill="#5e9a50" opacity="0.8"/><path d="M337,306.5 C350,308 365,312 378,314 L377.5,318 C362,316.5 349,313 337,310.5 Z" fill="url(#gg)"/><path d="M370,313.5 L378,314 L377.5,318 L370,317 Z" fill="#5e9a50" opacity="0.8"/><path d="M319.5,402 C327,399.5 335,399.5 340,402 L339.5,440 L320,440 Z" fill="url(#gg)"/><path d="M311,410 L321,413 M312,418 L321,420 M312,426 L321,428 M313,433 L321,435" fill="none" stroke="#9ad886" stroke-width="2.4" stroke-linecap="round" opacity="1"/><path d="M320,409 L339.5,409 M320,417 L339.5,417 M320,425 L339.5,425 M320,433 L339.5,433" fill="none" stroke="#5f9a50" stroke-width="0.9" stroke-linecap="round" opacity="0.6"/><path d="M300,427 C305,424 310,427 313,432 C318,441 322,451 325,459 L316,464 C309,452 302,442 300,427 Z" fill="#8cc47a"/><path d="M302,429 C306,440 311,451 316,461" fill="none" stroke="#4f8a45" stroke-width="1.8" opacity="0.8"/><path d="M309,434 C313,442 317,450 321,457" fill="none" stroke="#3f7a38" stroke-width="1.2" opacity="0.6"/><path d="M320,436 L340,436 C340,447 338,456 336,463 L329,466 C323,457 320,447 320,436 Z" fill="url(#gg)"/><path d="M330,455 L338,455 L338,465 L330,465 Z" fill="#ffffff"/><path d="M337,432 C346,428 358,429 365.5,434 C366.5,444 362,452 358,458 C354,462 351,465 348,469 L340,470 C338,458 337,444 337,432 Z" fill="url(#gg)"/><path d="M365.5,434 C366,444 362,452 357,459 C354,462 352,464 350,467" fill="none" stroke="#6ea85e" stroke-width="0.8"/><path d="M315,460 C325,462 334,465 342,467 L342,472 C333,472 324,470 315,466 Z" fill="#a6de92"/><path d="M308.5,474.5 A13.5,7.8 0 1 0 335.5,474.5 A13.5,7.8 0 1 0 308.5,474.5 Z M315.5,472.8 A6.5,3.6 0 1 1 328.5,472.8 A6.5,3.6 0 1 1 315.5,472.8 Z" fill="url(#gg)" fill-rule="evenodd"/><path d="M310,478 C316,483 328,484 336,479" fill="none" stroke="#5b9a4e" stroke-width="0.9" opacity="0.7"/><ellipse cx="339.5" cy="476" rx="3.2" ry="6" fill="#5d9a50"/><ellipse cx="339.8" cy="475.5" rx="1.6" ry="3.8" fill="#9fd68b"/><path d="M275,314 C275.5,308.5 283.5,307.5 285.5,312 C284,330 283.5,360 283.5,392 C286,396 288,401 287,406 C284,410 277,410 275,406 C274,399 276.5,395 276.5,391 C276.5,360 276,330 275,314 Z" fill="url(#wg)" stroke="#dadada" stroke-width="0.6" stroke-linejoin="round"/><path d="M283.6,320 C283.2,345 283,370 283.5,396" fill="none" stroke="#c6c6c6" stroke-width="1.1" stroke-linecap="round" opacity="0.75"/><path d="M279.5,410 C280,428 281.5,450 283.5,468" fill="none" stroke="#c4c4c4" stroke-width="4.3" stroke-linecap="round"/><path d="M279.5,410 C280,428 281.5,450 283.5,468" fill="none" stroke="#fbfbfb" stroke-width="3.4" stroke-linecap="round"/><path d="M285,409 C285,428 286,450 288.5,468" fill="none" stroke="#c4c4c4" stroke-width="3.5" stroke-linecap="round"/><path d="M285,409 C285,428 286,450 288.5,468" fill="none" stroke="#fbfbfb" stroke-width="2.6" stroke-linecap="round"/><path d="M280.5,466 C284,464 290,464 292,467 L292.5,477 C288,479 284,479 280,477 Z" fill="url(#wg)" stroke="#dadada" stroke-width="0.6" stroke-linejoin="round"/><path d="M280,476 C279,488 278.5,500 278.5,510" fill="none" stroke="#c4c4c4" stroke-width="2.7" stroke-linecap="round"/><path d="M280,476 C279,488 278.5,500 278.5,510" fill="none" stroke="#fbfbfb" stroke-width="1.8" stroke-linecap="round"/><path d="M283.5,477 C283,490 283,505 283.5,516" fill="none" stroke="#c4c4c4" stroke-width="2.8" stroke-linecap="round"/><path d="M283.5,477 C283,490 283,505 283.5,516" fill="none" stroke="#fbfbfb" stroke-width="1.9" stroke-linecap="round"/><path d="M287,477 C287,492 287.5,507 288,519" fill="none" stroke="#c4c4c4" stroke-width="2.8" stroke-linecap="round"/><path d="M287,477 C287,492 287.5,507 288,519" fill="none" stroke="#fbfbfb" stroke-width="1.9" stroke-linecap="round"/><path d="M290.5,477 C291,490 291.5,503 292,514" fill="none" stroke="#c4c4c4" stroke-width="2.6" stroke-linecap="round"/><path d="M290.5,477 C291,490 291.5,503 292,514" fill="none" stroke="#fbfbfb" stroke-width="1.7" stroke-linecap="round"/><path d="M371.5,327 C371,321 377,319.5 380,320 C383,320.5 384.5,324 384,329 C382.5,345 381.5,370 382.5,394 C386,399 388.5,404 387.5,410 C382,413.5 373,413.5 370,409 C369,403 372.5,398 373,394 C373.5,370 373,345 371.5,327 Z" fill="url(#gg)" stroke-linejoin="round"/><path d="M381.5,332 C380.5,350 380,372 381,394" fill="none" stroke="#6ea85e" stroke-width="0.9" stroke-linecap="round" opacity="0.5"/><path d="M376.5,412 C377.5,432 379,452 380,473" fill="none" stroke="#6aa85a" stroke-width="4.0" stroke-linecap="round"/><path d="M376.5,412 C377.5,432 379,452 380,473" fill="none" stroke="#a9e696" stroke-width="3.0" stroke-linecap="round"/><path d="M385,412 C384.5,432 384,452 383.5,473" fill="none" stroke="#6aa85a" stroke-width="3.4" stroke-linecap="round"/><path d="M385,412 C384.5,432 384,452 383.5,473" fill="none" stroke="#a9e696" stroke-width="2.4" stroke-linecap="round"/><path d="M377.5,470 C380,468 384,468 386.5,471 L386.5,480 C383,482 380,482 377.5,480 Z" fill="url(#gg)" stroke-linejoin="round"/><path d="M377.5,480 C377,490 376.5,498 376,506" fill="none" stroke="#6aa85a" stroke-width="2.5" stroke-linecap="round"/><path d="M377.5,480 C377,490 376.5,498 376,506" fill="none" stroke="#a9e696" stroke-width="1.5" stroke-linecap="round"/><path d="M380,481 C379.5,492 379,503 379,512" fill="none" stroke="#6aa85a" stroke-width="2.6" stroke-linecap="round"/><path d="M380,481 C379.5,492 379,503 379,512" fill="none" stroke="#a9e696" stroke-width="1.6" stroke-linecap="round"/><path d="M383,481 C383,493 383,505 383,515" fill="none" stroke="#6aa85a" stroke-width="2.6" stroke-linecap="round"/><path d="M383,481 C383,493 383,505 383,515" fill="none" stroke="#a9e696" stroke-width="1.6" stroke-linecap="round"/><path d="M386,480 C386.5,490 386.5,500 386,509" fill="none" stroke="#6aa85a" stroke-width="2.4" stroke-linecap="round"/><path d="M386,480 C386.5,490 386.5,500 386,509" fill="none" stroke="#a9e696" stroke-width="1.4" stroke-linecap="round"/><path d="M343.5,466 C343.5,461.5 347,460 350,460 C353.5,460 356,462 357,464.5 C360,462.5 364.5,464 365,468 C365.5,472 363.5,476 362,482 C361,495 358.5,505 358.5,512 C358,525 356.5,540 355.5,556 C357,563 357,572 354.5,578 C346,581 336,580 333,576 C332,569 337,562 342,556 C346.5,545 349,530 352,512 C352.5,500 351.5,490 350.5,482 C349,477 346,474 344.5,471 C343.8,469.5 343.5,468 343.5,466 Z" fill="url(#wg)" stroke="#dadada" stroke-width="0.6" stroke-linejoin="round"/><path d="M345,471 C349,473 353,472 356,468" fill="none" stroke="#c6c6c6" stroke-width="0.8" stroke-linecap="round" opacity="0.6"/><path d="M351.5,486 C352,500 351,520 348.5,540 C347,548 345,553 342,557" fill="none" stroke="#c6c6c6" stroke-width="0.9" stroke-linecap="round" opacity="0.55"/><ellipse cx="351.5" cy="571.5" rx="4.8" ry="6.8" fill="url(#wg)" stroke="#d0d0d0" stroke-width="0.6"/><path d="M351.5,588 C352.5,615 351.5,650 348,672" fill="none" stroke="#c4c4c4" stroke-width="3.1" stroke-linecap="round"/><path d="M351.5,588 C352.5,615 351.5,650 348,672" fill="none" stroke="#fbfbfb" stroke-width="2.2" stroke-linecap="round"/><path d="M335.5,579 C341,575 350,575 354,579 L353,585 C349.5,595 347,610 346,630 C345.5,650 345.5,665 346.5,676 C343,680 339,680 337,677 C339,665 340.5,650 341,630 C341,610 340,595 336.5,586 Z" fill="url(#wg)" stroke="#dadada" stroke-width="0.6" stroke-linejoin="round"/><path d="M335.5,579.5 C341,582 349,582 354,580" fill="none" stroke="#c6c6c6" stroke-width="0.7" stroke-linecap="round" opacity="0.7"/><path d="M350,687 L373,699" fill="none" stroke="#c4c4c4" stroke-width="2.8" stroke-linecap="round"/><path d="M350,687 L373,699" fill="none" stroke="#fbfbfb" stroke-width="1.9" stroke-linecap="round"/><path d="M348,690 L368,702" fill="none" stroke="#c4c4c4" stroke-width="2.8" stroke-linecap="round"/><path d="M348,690 L368,702" fill="none" stroke="#fbfbfb" stroke-width="1.9" stroke-linecap="round"/><path d="M345,692 L361,703" fill="none" stroke="#c4c4c4" stroke-width="2.7" stroke-linecap="round"/><path d="M345,692 L361,703" fill="none" stroke="#fbfbfb" stroke-width="1.8" stroke-linecap="round"/><path d="M342,694 L354,703" fill="none" stroke="#c4c4c4" stroke-width="2.6" stroke-linecap="round"/><path d="M342,694 L354,703" fill="none" stroke="#fbfbfb" stroke-width="1.7" stroke-linecap="round"/><path d="M336,677 C341,674 348,675 352,679 C355,683 356,688 353,692 C347,696 338,697 333,694 C330,689 331,682 336,677 Z" fill="url(#wg)" stroke="#dadada" stroke-width="0.6" stroke-linejoin="round"/><path d="M293.5,467 C296,462 302,464 306,464 C308,459 313,457 317,460 C319.5,464 317,469 311,472 C309,478 308,495 308,510 C308.5,530 310,545 312.5,556 C316,562 317,570 316,577 C312,582 297,582 294,577 C293,570 296,562 298.5,556 C300.5,545 301,530 300.5,510 C299,495 296.5,485 294.5,478 C293,474 292.5,470 293.5,467 Z" fill="url(#gg)" stroke-linejoin="round"/><ellipse cx="312.5" cy="572" rx="4.8" ry="6.8" fill="url(#gg)" stroke="#6ea85e" stroke-width="0.6"/><path d="M295.2,588 C294,615 294.5,650 297,676" fill="none" stroke="#6aa85a" stroke-width="3.0" stroke-linecap="round"/><path d="M295.2,588 C294,615 294.5,650 297,676" fill="none" stroke="#a9e696" stroke-width="2.0" stroke-linecap="round"/><path d="M294.5,579 C300,575 308,575 311.5,579 L311,586 C308,596 307,610 306.5,630 C306,650 306.5,665 308,678 C304,682 299,682 296.5,679 C298,665 298.5,650 298.5,630 C298.5,610 298,596 296,587 Z" fill="url(#gg)" stroke-linejoin="round"/><path d="M294.5,579.5 C300,582 306,582 311.5,580" fill="none" stroke="#6ea85e" stroke-width="0.7" stroke-linecap="round" opacity="0.7"/><path d="M306,688 L329,709" fill="none" stroke="#6aa85a" stroke-width="2.7" stroke-linecap="round"/><path d="M306,688 L329,709" fill="none" stroke="#a9e696" stroke-width="1.7" stroke-linecap="round"/><path d="M303,690 L321,709" fill="none" stroke="#6aa85a" stroke-width="2.7" stroke-linecap="round"/><path d="M303,690 L321,709" fill="none" stroke="#a9e696" stroke-width="1.7" stroke-linecap="round"/><path d="M300,692 L313,708" fill="none" stroke="#6aa85a" stroke-width="2.6" stroke-linecap="round"/><path d="M300,692 L313,708" fill="none" stroke="#a9e696" stroke-width="1.6" stroke-linecap="round"/><path d="M297,694 L305,707" fill="none" stroke="#6aa85a" stroke-width="2.5" stroke-linecap="round"/><path d="M297,694 L305,707" fill="none" stroke="#a9e696" stroke-width="1.5" stroke-linecap="round"/><path d="M296,678 C301,676 307,677 310,681 C313,686 314,690 312,694 C306,698 296,700 290,698 C287,694 289,686 296,678 Z" fill="url(#gg)" stroke-linejoin="round"/></g><rect x="926.0" y="300.5" width="20.2" height="22.2" rx="6" fill="#d9a640" opacity="0.85" filter="url(#blur2)"/><rect x="940.7" y="305" width="5" height="13.2" rx="2" fill="#f6b08a" opacity="0.8" filter="url(#blur1)"/><rect x="930.5" y="304" width="11.2" height="15.2" rx="1.2" fill="url(#sg)"/><path d="M936.1,304.8 L936.1,318.4" stroke="#7890a8" stroke-width="0.7" opacity="0.8"/><circle cx="938.4" cy="307.3" r="1.3" fill="#1a3ec8"/><rect x="926.0" y="393.5" width="20.2" height="22.2" rx="6" fill="#d9a640" opacity="0.85" filter="url(#blur2)"/><rect x="940.7" y="398" width="5" height="13.2" rx="2" fill="#f6b08a" opacity="0.8" filter="url(#blur1)"/><rect x="930.5" y="397" width="11.2" height="15.2" rx="1.2" fill="url(#sg)"/><path d="M936.1,397.8 L936.1,411.4" stroke="#7890a8" stroke-width="0.7" opacity="0.8"/><circle cx="938.4" cy="400.3" r="1.3" fill="#1a3ec8"/><rect x="926.0" y="434.0" width="20.2" height="22.2" rx="6" fill="#d9a640" opacity="0.85" filter="url(#blur2)"/><rect x="940.7" y="438.5" width="5" height="13.2" rx="2" fill="#f6b08a" opacity="0.8" filter="url(#blur1)"/><rect x="930.5" y="437.5" width="11.2" height="15.2" rx="1.2" fill="url(#sg)"/><path d="M936.1,438.3 L936.1,451.9" stroke="#7890a8" stroke-width="0.7" opacity="0.8"/><circle cx="938.4" cy="440.8" r="1.3" fill="#1a3ec8"/><rect x="991.5" y="349" width="20.2" height="23.2" rx="5" fill="#fdbf99" filter="url(#blur15)"/><rect x="996" y="353" width="11.2" height="15.2" rx="1.2" fill="url(#sg)"/><path d="M1001.6,353.8 L1001.6,367.4" stroke="#7890a8" stroke-width="0.7" opacity="0.8"/><circle cx="1003.9" cy="356.3" r="1.3" fill="#1a3ec8"/><rect x="991.5" y="430" width="20.2" height="23.2" rx="5" fill="#fdbf99" filter="url(#blur15)"/><rect x="996" y="434" width="11.2" height="15.2" rx="1.2" fill="url(#sg)"/><path d="M1001.6,434.8 L1001.6,448.4" stroke="#7890a8" stroke-width="0.7" opacity="0.8"/><circle cx="1003.9" cy="437.3" r="1.3" fill="#1a3ec8"/><rect x="991.5" y="468.5" width="20.2" height="23.2" rx="5" fill="#fdbf99" filter="url(#blur15)"/><rect x="996" y="472.5" width="11.2" height="15.2" rx="1.2" fill="url(#sg)"/><path d="M1001.6,473.3 L1001.6,486.9" stroke="#7890a8" stroke-width="0.7" opacity="0.8"/><circle cx="1003.9" cy="475.8" r="1.3" fill="#1a3ec8"/><rect x="889.5" y="517.5" width="20.2" height="23.2" rx="5" fill="#fdbf99" filter="url(#blur15)"/><rect x="894" y="521.5" width="11.2" height="15.2" rx="1.2" fill="url(#sg)"/><path d="M899.6,522.3 L899.6,535.9000000000001" stroke="#7890a8" stroke-width="0.7" opacity="0.8"/><circle cx="901.9" cy="524.8" r="1.3" fill="#1a3ec8"/><rect x="886.5" y="619.5" width="20.2" height="23.2" rx="5" fill="#fdbf99" filter="url(#blur15)"/><rect x="891" y="623.5" width="11.2" height="15.2" rx="1.2" fill="url(#sg)"/><path d="M896.6,624.3 L896.6,637.9000000000001" stroke="#7890a8" stroke-width="0.7" opacity="0.8"/><circle cx="898.9" cy="626.8" r="1.3" fill="#1a3ec8"/><rect x="899.0" y="677" width="20.2" height="23.2" rx="5" fill="#fdbf99" filter="url(#blur15)"/><rect x="903.5" y="681" width="11.2" height="15.2" rx="1.2" fill="url(#sg)"/><path d="M909.1,681.8 L909.1,695.4000000000001" stroke="#7890a8" stroke-width="0.7" opacity="0.8"/><circle cx="911.4" cy="684.3" r="1.3" fill="#1a3ec8"/>
<g fill="#0d5a88">
<rect x="1097.1" y="678.8" width="2.4" height="23.3"/><rect x="1114.4" y="678.8" width="2.4" height="23.3"/>
<polygon points="1097.1,678.8 1099.9,678.8 1116.8,702.1 1114.0,702.1"/>
<rect x="1148.6" y="678.8" width="2.4" height="23.3"/>
<polygon points="1155.2,689.6 1158.0,689.6 1163.6,702.1 1160.8,702.1"/>
<polygon points="1175.6,678.8 1178.4,678.8 1187.2,702.1 1184.6,702.1 1177.0,682.6 1168.5,702.1 1165.9,702.1"/>
<polygon points="1189.6,678.8 1192.4,678.8 1208.2,702.1 1205.4,702.1"/>
<polygon points="1205.4,678.8 1208.2,678.8 1192.4,702.1 1189.6,702.1"/>
<rect x="1237.0" y="678.8" width="2.4" height="23.3"/><rect x="1253.6" y="678.8" width="2.4" height="23.3"/>
<polygon points="1237.0,678.8 1239.8,678.8 1256.0,702.1 1253.2,702.1"/>
</g><g fill="none" stroke="#0d5a88" stroke-width="2.4">
<ellipse cx="1132.55" cy="690.55" rx="11.05" ry="11.1"/>
<path d="M1150,680 L1156,680 C1160.8,680 1163.2,682.4 1163.2,685.3 C1163.2,688.3 1160.8,690.6 1156,690.6 L1150,690.6"/>
<ellipse cx="1220.9" cy="690.55" rx="10.9" ry="11.1"/>
</g><circle cx="1259.4" cy="680.4" r="1.4" fill="#7fa6c2"/>
</svg>
<div id="note"></div>
<div class="abs " style="left:329.29px;top:-1.91px;font-size:82.46px;line-height:82.46px;transform:scaleX(0.9721);color:#0c5889;">Baseball Pitching</div><div class="abs " style="left:415.07px;top:94.91px;font-size:33.19px;line-height:33.19px;transform:scaleX(0.9532);color:#303030;">Minimum Sensor Requirements</div><div class="abs " style="left:183.76px;top:145.88px;font-size:22.46px;line-height:22.46px;transform:scaleX(0.9142);color:#000;-webkit-text-stroke:0.45px #000;">RT Hand Pitcher</div><div class="abs " style="left:183.95px;top:171.09px;font-size:19.86px;line-height:19.86px;transform:scaleX(0.9125);color:#363636;">RT Arm, Trunk, and LT Leg</div><div class="abs " style="left:184.50px;top:193.19px;font-size:19.86px;line-height:19.86px;transform:scaleX(0.9025);color:#363636;">9 Sensors</div><div class="abs " style="left:791.94px;top:145.88px;font-size:22.46px;line-height:22.46px;transform:scaleX(0.9257);color:#000;-webkit-text-stroke:0.45px #000;">LT Hand Pitcher</div><div class="abs " style="left:792.15px;top:171.09px;font-size:19.86px;line-height:19.86px;transform:scaleX(0.9116);color:#363636;">LT Arm, Trunk, and RT Leg</div><div class="abs " style="left:792.40px;top:193.19px;font-size:19.86px;line-height:19.86px;transform:scaleX(0.9025);color:#363636;">9 Sensors</div><div class="abs it" style="left:515.07px;top:563.46px;font-size:19.42px;line-height:19.42px;transform:scaleX(0.9111);color:#e8772a;-webkit-text-stroke:0.25px #e8772a;margin-top:0.8px;">Note: A complete lower body is</div><div class="abs it" style="left:516.00px;top:585.36px;font-size:19.42px;line-height:19.42px;transform:scaleX(0.9160);color:#e8772a;-webkit-text-stroke:0.25px #e8772a;margin-top:0.8px;">required for stride visualization</div><div class="abs it" style="left:506.64px;top:607.76px;font-size:19.42px;line-height:19.42px;transform:scaleX(0.9185);color:#e8772a;-webkit-text-stroke:0.25px #e8772a;margin-top:0.8px;">and capturing trail leg kinematics</div><div class="abs it" style="left:567.61px;top:630.06px;font-size:19.42px;line-height:19.42px;transform:scaleX(0.9190);color:#e8772a;-webkit-text-stroke:0.25px #e8772a;margin-top:0.8px;">(12 sensors total)</div>
</body></html>
